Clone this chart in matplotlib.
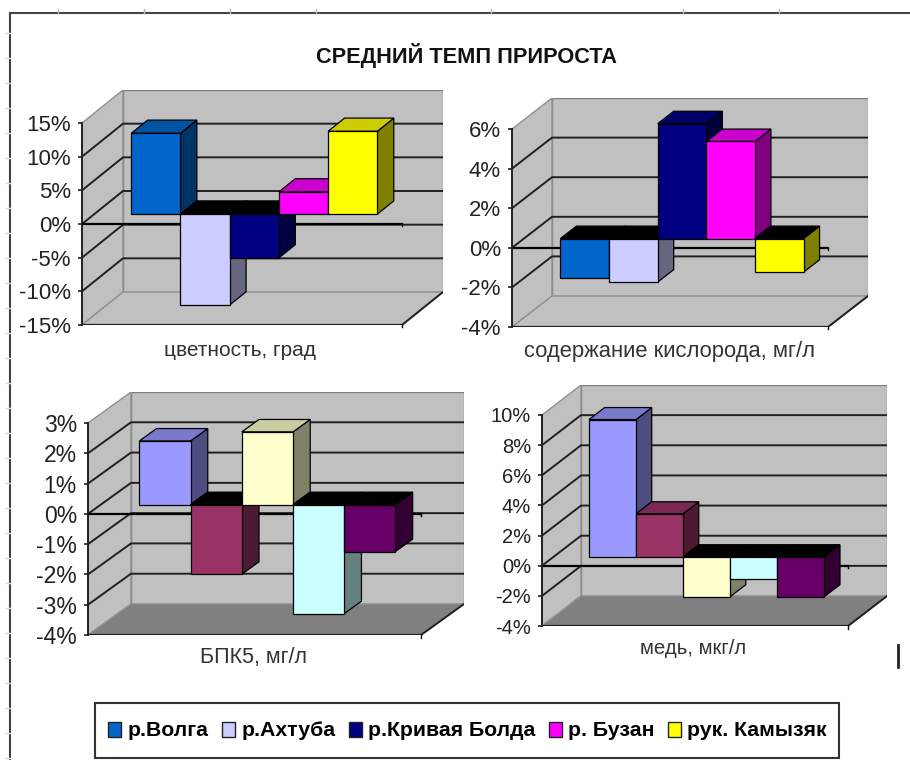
import matplotlib
matplotlib.use('Agg')
import matplotlib.pyplot as plt
import matplotlib.colors as mcolors
from matplotlib.lines import Line2D
from matplotlib.patches import Patch, Rectangle

W, H = 910, 760

title = 'СРЕДНИЙ ТЕМП ПРИРОСТА'
rivers = ['р.Волга', 'р.Ахтуба', 'р.Кривая Болда', 'р. Бузан', 'рук. Камызяк']

color_vals = [12.0, -13.5, -6.5, 3.3, 12.3]
oxygen_vals = [-2.0, -2.2, 5.8, 4.9, -1.7]
bpk_vals = [2.1, -2.3, 2.4, -3.6, -1.55]
copper_vals = [9.1, 2.85, -2.65, -1.5, -2.65]

top_colors = ['#0066CC', '#CCCCFF', '#000080', '#FF00FF', '#FFFF00']
low_colors = ['#9999FF', '#993366', '#FFFFCC', '#CCFFFF', '#660066']

# pixel box of each front plane: x0, x1, y at top value, y at bottom value, depth
panels = [
    dict(vals=color_vals, ticks=[-15, -10, -5, 0, 5, 10, 15], name='цветность, град',
         box=(82, 402, 123, 325), depth=(41, 33), cols=top_colors, floor='#C0C0C0',
         lab=(240, 350), tick_fs=16, lab_fs=15),
    dict(vals=oxygen_vals, ticks=[-4, -2, 0, 2, 4, 6], name='содержание кислорода, мг/л',
         box=(512, 828, 129, 327), depth=(40, 31), cols=top_colors, floor='#C0C0C0',
         lab=(669, 352), tick_fs=16, lab_fs=15.8),
    dict(vals=bpk_vals, ticks=[-4, -3, -2, -1, 0, 1, 2, 3], name='БПК5, мг/л',
         box=(88, 421, 423, 635), depth=(43, 31), cols=low_colors, floor='#808080',
         lab=(253, 658), tick_fs=16.5, lab_fs=15.5),
    dict(vals=copper_vals, ticks=[-4, -2, 0, 2, 4, 6, 8, 10], name='медь, мкг/л',
         box=(542, 848, 415, 626), depth=(39, 30), cols=low_colors, floor='#808080',
         lab=(693, 649), tick_fs=14.5, lab_fs=14.7),
]

plt.rcParams['font.family'] = ['Liberation Sans', 'DejaVu Sans']

fig = plt.figure(figsize=(W / 100, H / 100), dpi=100, facecolor='white')


def shade(col, k):
    r, g, b = mcolors.to_rgb(col)
    return (r * k, g * k, b * k)


def draw_panel(p):
    x0, x1, ytop, ybot = p['box']
    dpx, dpy = p['depth']
    ticks = p['ticks']
    vmin, vmax = ticks[0], ticks[-1]
    xmax = 6.5
    # depth expressed in data units of the two axes
    dx = dpx * xmax / (x1 - x0)
    dy = dpy * (vmax - vmin) / (ybot - ytop)

    ax = fig.add_axes([x0 / W, (H - ybot) / H, (x1 - x0 + dpx) / W, (ybot - ytop + dpy) / H])
    ax.set_xlim(0, xmax + dx)
    ax.set_ylim(vmin, vmax + dy)
    ax.patch.set_visible(False)

    # walls and floor
    ax.fill([dx, xmax + dx, xmax + dx, dx], [vmin + dy, vmin + dy, vmax + dy, vmax + dy],
            fc='#C0C0C0', ec='#808080', lw=1, zorder=1)
    ax.fill([0, dx, dx, 0], [vmin, vmin + dy, vmax + dy, vmax],
            fc='#C0C0C0', ec='#909090', lw=1, zorder=1)
    ax.fill([0, xmax, xmax + dx, dx], [vmin, vmin, vmin + dy, vmin + dy],
            fc=p['floor'], ec='#909090', lw=1, zorder=1)

    # gridlines run along the side wall and across the back wall
    for t in ticks[1:-1]:
        ax.plot([0, dx, xmax + dx], [t, t + dy, t + dy], color='#202020', lw=1.4, zorder=2)
    ax.plot([0, xmax], [vmin, vmin], color='#202020', lw=1.6, zorder=2)
    ax.plot([xmax, xmax + dx], [vmin, vmin + dy], color='#202020', lw=1.4, zorder=2)
    ax.plot([0, xmax], [0, 0], color='black', lw=1.6, zorder=2)
    tick_len = 0.012 * (vmax - vmin)
    ax.plot([xmax, xmax], [0, -tick_len], color='black', lw=1, zorder=2)
    ax.plot([xmax, xmax], [vmin, vmin - tick_len], color='black', lw=1, clip_on=False, zorder=2)

    # bars sit in the middle of the depth, left to right so each hides the one before
    d0, d1 = 0.3, 0.7
    for i, v in enumerate(p['vals']):
        col = p['cols'][i]
        xl = 0.75 + i + d0 * dx
        xr = xl + 1
        base = d0 * dy
        back = (d1 - d0)
        top_c = shade(col, 0.8) if v > 0 else 'black'
        z = 3 + i
        # side face
        ax.fill([xr, xr + back * dx, xr + back * dx, xr],
                [base, base + back * dy, base + v + back * dy, base + v],
                fc=shade(col, 0.5), ec='black', lw=0.9, zorder=z)
        # top face
        ax.fill([xl, xr, xr + back * dx, xl + back * dx],
                [base + max(v, 0), base + max(v, 0), base + max(v, 0) + back * dy, base + max(v, 0) + back * dy],
                fc=top_c, ec='black', lw=0.9, zorder=z)
        ax.bar(xl, v, width=1, bottom=base, align='edge', color=col, edgecolor='black', lw=0.9, zorder=z)

    for s in ['top', 'right', 'bottom']:
        ax.spines[s].set_visible(False)
    ax.spines['left'].set_bounds(vmin, vmax)
    ax.spines['left'].set_linewidth(1.4)
    ax.spines['left'].set_color('#202020')
    ax.set_xticks([])
    ax.set_yticks(ticks)
    ax.set_yticklabels(['%d%%' % t for t in ticks], fontsize=p['tick_fs'], color='#222222')
    ax.tick_params(axis='y', length=3, width=1.2, pad=5, color='#202020')

    fig.text(p['lab'][0] / W, 1 - p['lab'][1] / H, p['name'], ha='center', va='center',
             fontsize=p['lab_fs'], color='#333333')


for p in panels:
    draw_panel(p)

fig.text(467 / W, 1 - 56 / H, title, ha='center', va='center', fontsize=15.7, fontweight='bold', color='#111111')

# sheet frame, with the faint grid ticks along its edges
fig.add_artist(Line2D([10 / W, 10 / W], [0, 1 - 13 / H], color='#444444', lw=1.5))
fig.add_artist(Line2D([10 / W, 1], [1 - 13 / H, 1 - 13 / H], color='#444444', lw=1.5))
for y in range(33, 760, 25):
    fig.add_artist(Line2D([5 / W, 10 / W], [1 - y / H, 1 - y / H], color='#dddddd', lw=1))
for x in [58, 144, 230, 316, 491, 683, 779]:
    fig.add_artist(Line2D([x / W, x / W], [1 - 13 / H, 1 - 9 / H], color='#bbbbbb', lw=1))
# text cursor mark right of the copper panel
fig.add_artist(Line2D([898 / W, 898 / W], [1 - 667 / H, 1 - 645 / H], color='#222222', lw=2))

# legend box is drawn apart because it is much taller than its padding would give
fig.add_artist(Rectangle((95 / W, 1 - 758 / H), 744 / W, 55 / H, transform=fig.transFigure,
                         fc='white', ec='#333333', lw=1.5))
handles = [Patch(fc=c, ec='#222222', lw=1) for c in top_colors]
leg = fig.legend(handles, rivers, ncol=5, loc='center', bbox_to_anchor=(467.5 / W, 1 - 731 / H),
                 prop=dict(weight='bold', size=15.3), handlelength=0.62, handleheight=0.7,
                 handletextpad=0.3, columnspacing=0.62, borderpad=0.2, frameon=False)
leg.set_zorder(5)

fig.savefig('out.png', dpi=100)
